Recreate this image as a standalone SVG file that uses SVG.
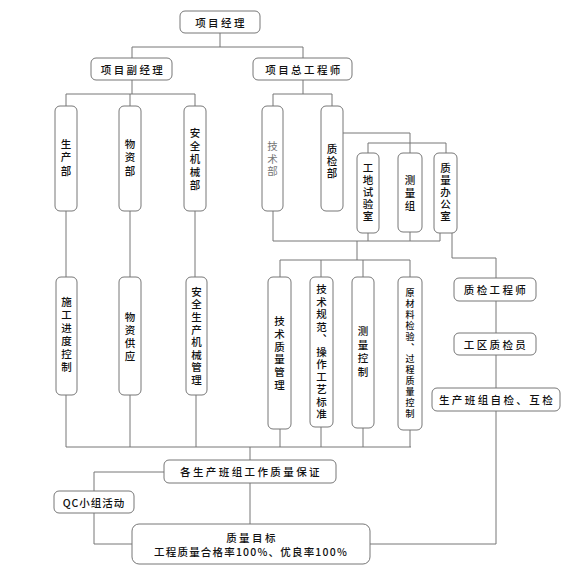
<svg xmlns="http://www.w3.org/2000/svg" width="569" height="569" viewBox="0 0 569 569">
<style>
.b{fill:#fff;stroke:#777;stroke-width:1}
.c{fill:none;stroke:#777;stroke-width:1}
text{font-family:"Noto Sans CJK SC","Noto Sans",sans-serif;font-size:10.5px;font-weight:500;fill:#111;text-anchor:middle;dominant-baseline:central}
.h{letter-spacing:2.4px}
.v{writing-mode:vertical-rl;dominant-baseline:central}
.g{fill:#777;font-weight:normal}
.s{font-size:9px}
</style>
<g id="connectors" class="c">
<path d="M220 33V47M132 47H303M132 47V58M303 47V58"/>
<path d="M132 80V94M66 94H195M66 94V106M130 94V106M195 94V106"/>
<path d="M303 80V94M273 94H332M273 94V106M332 94V106"/>
<path d="M343 133H410V143M368 143H446M368 143V153M410 143V153M446 143V153"/>
<path d="M273 211V241H440M368 233V241M410 232V241M440 233V241"/>
<path d="M357 241V260M280 260H410M280 260V277M321 260V277M363 260V277M410 260V277"/>
<path d="M452 233V258H496V278M496 301V333M496 355V388M496 411V544H370"/>
<path d="M66 211V277M130 211V277M195 211V277"/>
<path d="M66 395V447M130 395V447M196 395V447M280 429V447M321 427V447M363 428V447M410 430V447M66 447H411M250 447V460"/>
<path d="M164 472H94V491M94 513V544H132M250 483V524"/>
</g>
<g id="pm"><rect class="b" x="180" y="11" width="80" height="22" rx="5"/><text class="h" x="221" y="22">项目经理</text></g>
<g id="dpm"><rect class="b" x="91" y="58" width="81" height="22" rx="5"/><text class="h" x="133" y="69">项目副经理</text></g>
<g id="ce"><rect class="b" x="253" y="58" width="99" height="22" rx="5"/><text class="h" x="304" y="69">项目总工程师</text></g>
<g id="scb"><rect class="b" x="55" y="106" width="22" height="105" rx="5"/><text class="v" x="66" y="159" letter-spacing="3">生产部</text></g>
<g id="wzb"><rect class="b" x="119" y="106" width="22" height="105" rx="5"/><text class="v" x="130" y="159" letter-spacing="3">物资部</text></g>
<g id="aqjx"><rect class="b" x="184" y="106" width="22" height="105" rx="5"/><text class="v" x="195" y="160" letter-spacing="2.5">安全机械部</text></g>
<g id="jsb"><rect class="b" x="262" y="106" width="21" height="105" rx="5"/><text class="v g" x="272.5" y="160" letter-spacing="2">技术部</text></g>
<g id="zjb"><rect class="b" x="321" y="106" width="22" height="105" rx="5"/><text class="v" x="332" y="162" letter-spacing="1.5">质检部</text></g>
<g id="gdsys"><rect class="b" x="357" y="153" width="22" height="80" rx="5"/><text class="v" x="368" y="193" letter-spacing="1.5">工地试验室</text></g>
<g id="clz"><rect class="b" x="398" y="153" width="24" height="79" rx="5"/><text class="v" x="410" y="194" letter-spacing="2.5">测量组</text></g>
<g id="zlbgs"><rect class="b" x="434" y="153" width="23" height="80" rx="5"/><text class="v" x="445.5" y="193" letter-spacing="1.5">质量办公室</text></g>
<g id="sgjd"><rect class="b" x="56" y="277" width="21" height="118" rx="5"/><text class="v" x="66.5" y="336" letter-spacing="2.5">施工进度控制</text></g>
<g id="wzgy"><rect class="b" x="119" y="277" width="22" height="118" rx="5"/><text class="v" x="130" y="338" letter-spacing="2.5">物资供应</text></g>
<g id="aqsc"><rect class="b" x="186" y="277" width="21" height="118" rx="5"/><text class="v" x="196.5" y="337" letter-spacing="2.1">安全生产机械管理</text></g>
<g id="jszl"><rect class="b" x="268" y="277" width="23" height="152" rx="5"/><text class="v" x="279.5" y="354" letter-spacing="2.2">技术质量管理</text></g>
<g id="jsgf"><rect class="b" x="310" y="277" width="23" height="150" rx="5"/><text class="v" x="321.5" y="353" letter-spacing="2">技术规范、操作工艺标准</text></g>
<g id="clkz"><rect class="b" x="352" y="277" width="22" height="151" rx="5"/><text class="v" x="363" y="353" letter-spacing="3">测量控制</text></g>
<g id="ycl"><rect class="b" x="398" y="277" width="24" height="153" rx="5"/><text class="v s" x="410" y="354" letter-spacing="2">原材料检验、过程质量控制</text></g>
<g id="zjgcs"><rect class="b" x="454" y="278" width="82" height="23" rx="5"/><text class="h" x="496" y="289.5">质检工程师</text></g>
<g id="gqzjy"><rect class="b" x="454" y="333" width="82" height="22" rx="5"/><text class="h" x="496" y="344">工区质检员</text></g>
<g id="scbz"><rect class="b" x="432" y="388" width="128" height="23" rx="5"/><text class="h" x="497" y="399.5">生产班组自检、互检</text></g>
<g id="gscbz"><rect class="b" x="164" y="460" width="172" height="23" rx="5"/><text class="h" x="251" y="471.5">各生产班组工作质量保证</text></g>
<g id="qc"><rect class="b" x="54" y="491" width="80" height="22" rx="5"/><text x="94" y="502" letter-spacing="1">QC小组活动</text></g>
<g id="goal"><rect class="b" x="132" y="524" width="238" height="40" rx="7"/><text class="h" x="252" y="537">质量目标</text><text x="251" y="551.5" letter-spacing="1.2">工程质量合格率100%、优良率100%</text></g>
</svg>
